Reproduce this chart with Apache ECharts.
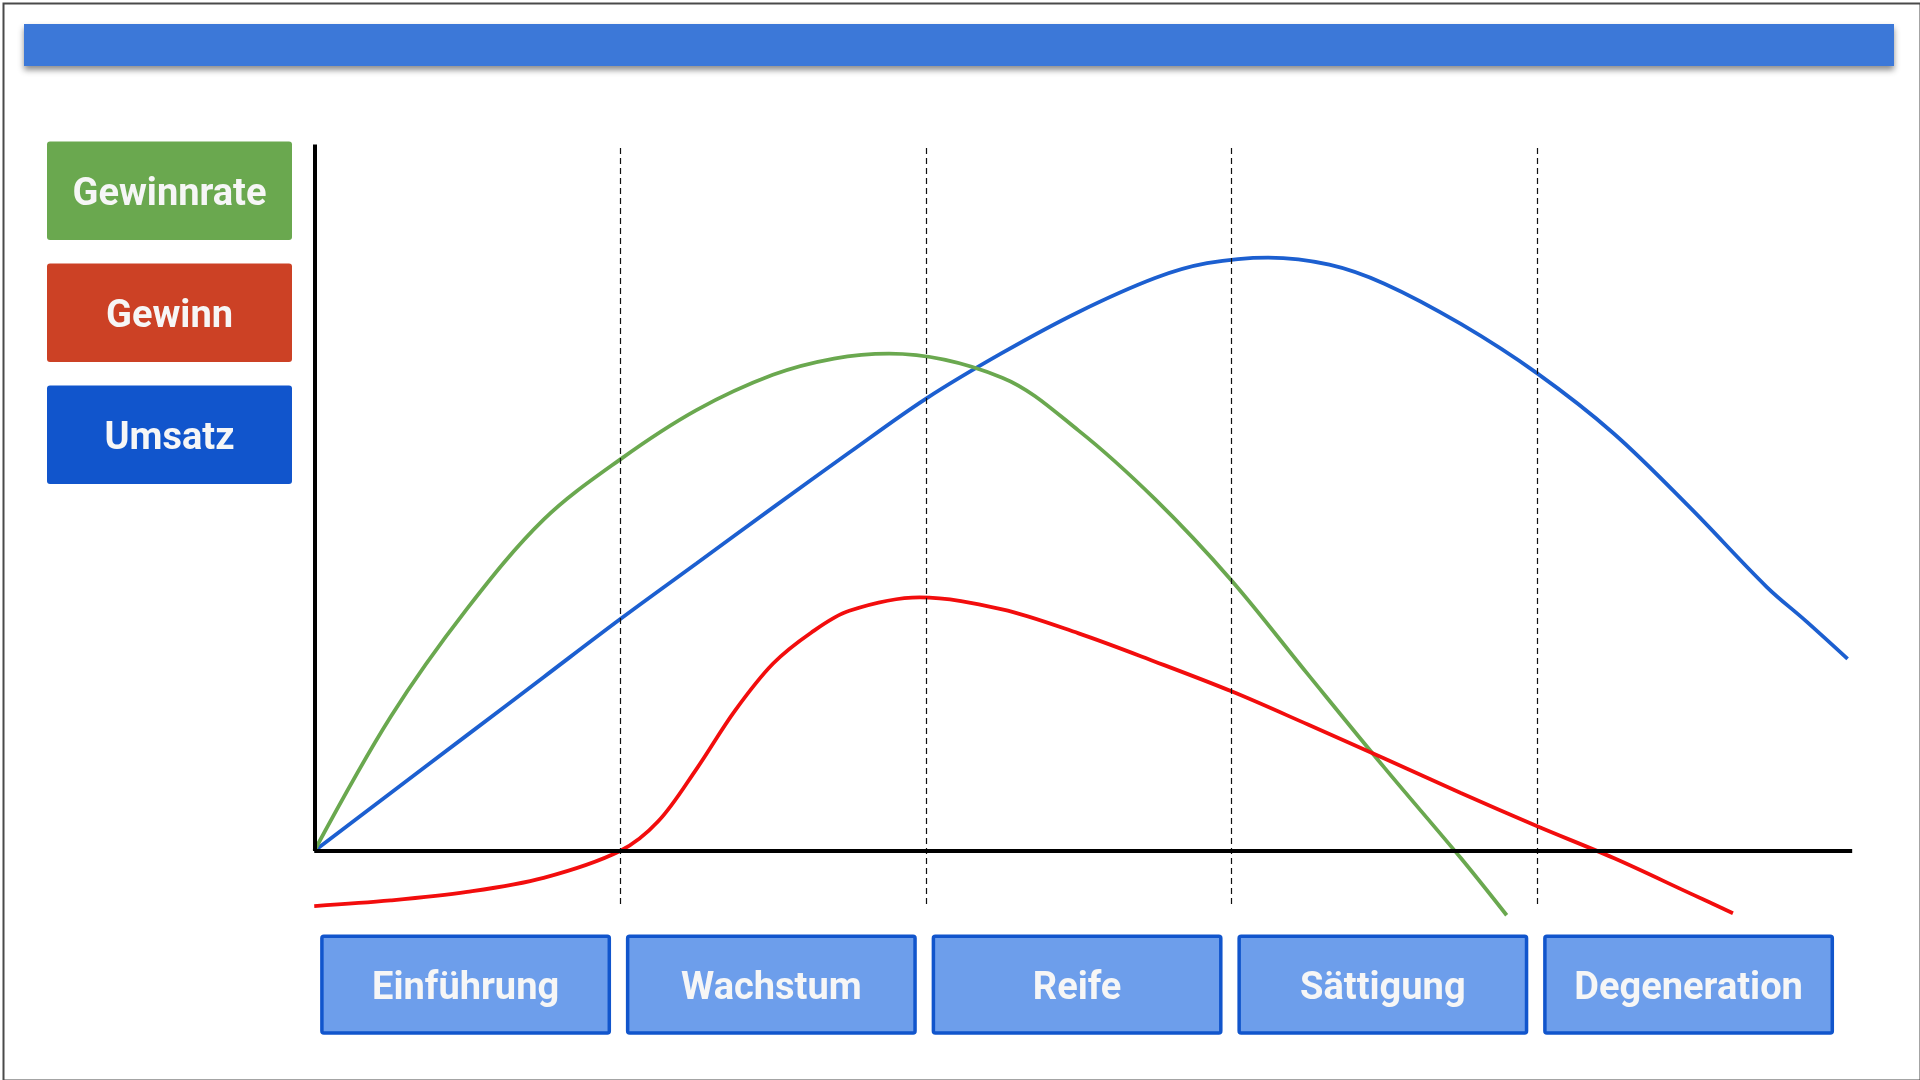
<!DOCTYPE html>
<html>
<head>
<meta charset="utf-8">
<script src="https://cdn.jsdelivr.net/npm/echarts@6/dist/echarts.min.js"></script>
<style>
html,body{margin:0;padding:0;background:#fff;}
#chart{width:1920px;height:1080px;}
</style>
</head>
<body>
<div id="chart"></div>
<script>
// ---- data ----
const stages = ['Einführung', 'Wachstum', 'Reife', 'Sättigung', 'Degeneration'];
const seriesNames = ['Gewinnrate', 'Gewinn', 'Umsatz'];
const stageDividers = [1, 2, 3, 4];

const umsatz = [
  [0, 0], [0.25, 8.2], [0.5, 16.4], [0.75, 24.6], [1, 32.8], [1.25, 40.7], [1.5, 48.6],
  [1.75, 56.4], [2, 64.0], [2.25, 70.5], [2.5, 76.3], [2.75, 81.1], [2.92, 83.2],
  [3.12, 84.0], [3.32, 83.0], [3.5, 80.3], [3.75, 74.6], [4, 67.6], [4.25, 59.1],
  [4.5, 48.6], [4.75, 37.4], [4.88, 32.5], [5.015, 27.2]
];
const gewinnrate = [
  [0, 0], [0.25, 19.0], [0.5, 34.3], [0.75, 46.9], [1, 55.4], [1.25, 62.4], [1.5, 67.4],
  [1.7, 69.7], [1.88, 70.4], [2.25, 67.0], [2.5, 59.5], [2.75, 49.8], [3, 38.3],
  [3.25, 25.0], [3.5, 11.8], [3.75, -1.0], [3.9, -9.1]
];
const gewinn = [
  [0, -7.8], [0.25, -7.0], [0.5, -5.8], [0.75, -3.8], [1, 0], [1.125, 4.2], [1.25, 11.6],
  [1.375, 19.8], [1.5, 26.5], [1.625, 30.9], [1.75, 34.0], [1.98, 35.9], [2.25, 34.2],
  [2.5, 30.8], [2.75, 26.8], [3, 22.6], [3.25, 17.9], [3.5, 13.1], [3.75, 8.2], [4, 3.5],
  [4.25, -1.0], [4.5, -6.0], [4.64, -8.8]
];

// ---- style ----
const colGreen = '#6aa84f';
const colRed = '#cc4125';
const colBlue = '#1155cc';
const lineGreen = '#6aa84f';
const lineRed = '#f20d0d';
const lineBlue = '#1c5fd0';
const FONT = 'Roboto, "Noto Sans", sans-serif';
const SMOOTH = 0.34;

const chart = echarts.init(document.getElementById('chart'), null, {renderer: 'canvas'});

const X_MAX = 5.03, Y_MIN = -10, Y_MAX = 100;
const UNIT_X = 305.75, UNIT_Y = 7.065;

const legendBoxes = seriesNames.map((name, i) => {
  const fills = [colGreen, colRed, colBlue];
  const tops = [141.5, 263.5, 385.5];
  return {
    type: 'group', left: 47, top: tops[i],
    children: [
      {type: 'rect', shape: {x: 0, y: 0, width: 245, height: 98.5, r: 3},
       style: {fill: fills[i]}},
      {type: 'text', x: 122.5, y: 54,
       style: {text: name, fill: '#f6f6f6', font: 'bold 38px ' + FONT,
               textAlign: 'center', textVerticalAlign: 'middle'}}
    ]
  };
});

const dividerLines = stageDividers.map(k => [{coord: [k, -7.5]}, {coord: [k, Y_MAX]}]);

const option = {
  animation: false,
  backgroundColor: '#ffffff',
  grid: {left: 314.25, top: 144.5, width: X_MAX * UNIT_X, height: (Y_MAX - Y_MIN) * UNIT_Y},
  xAxis: {type: 'value', min: 0, max: X_MAX, show: false},
  yAxis: {type: 'value', min: Y_MIN, max: Y_MAX, show: false},
  graphic: [
    {type: 'rect', left: 1, top: 1, shape: {x: 0, y: 0, width: 1917, height: 1077},
     style: {fill: null, stroke: '#4a4a4a', lineWidth: 2}, z: 100},
    {type: 'rect', shape: {x: 24, y: 24, width: 1870, height: 42},
     style: {fill: '#3c78d8', shadowBlur: 6, shadowOffsetY: 4, shadowColor: 'rgba(0,0,0,0.45)'}},
  ].concat(legendBoxes),
  series: [
    {
      type: 'line', name: 'dividers', data: [[0, 0]], symbol: 'none', z: 1, silent: true,
      lineStyle: {width: 0},
      markLine: {
        silent: true, symbol: 'none', animation: false, label: {show: false},
        lineStyle: {color: '#111', width: 1.2, type: [6, 4]},
        data: dividerLines
      }
    },
    {
      type: 'line', name: 'axes', data: [[0, 0]], symbol: 'none', z: 2, silent: true,
      lineStyle: {width: 0},
      markLine: {
        silent: true, symbol: 'none', animation: false, label: {show: false},
        lineStyle: {color: '#000', width: 4, type: 'solid'},
        data: [
          [{coord: [0, 0]}, {coord: [0, Y_MAX]}],
          [{coord: [0, 0]}, {coord: [X_MAX, 0]}]
        ]
      }
    },
    {
      type: 'line', name: seriesNames[2], data: umsatz, smooth: SMOOTH, symbol: 'none', z: 3,
      clip: false, lineStyle: {color: lineBlue, width: 3.8}
    },
    {
      type: 'line', name: seriesNames[0], data: gewinnrate, smooth: SMOOTH, symbol: 'none', z: 3,
      clip: false, lineStyle: {color: lineGreen, width: 3.8}
    },
    {
      type: 'line', name: seriesNames[1], data: gewinn, smooth: SMOOTH, symbol: 'none', z: 4,
      clip: false, lineStyle: {color: lineRed, width: 3.8}
    },
    {
      type: 'custom', name: 'stages', clip: false, z: 5, silent: true,
      data: stages.map((s, i) => ({value: [i, 0], name: s})),
      encode: {x: 0, y: 1},
      renderItem: function (params, api) {
        const i = api.value(0);
        const p1 = api.coord([i + 0.025, -12.05]);
        const p2 = api.coord([i + 0.965, -25.75]);
        return {
          type: 'group',
          children: [
            {type: 'rect', shape: {x: p1[0], y: p1[1], width: p2[0] - p1[0], height: p2[1] - p1[1], r: 2},
             style: {fill: '#6d9eeb', stroke: '#1155cc', lineWidth: 3.5}},
            {type: 'text', x: (p1[0] + p2[0]) / 2, y: (p1[1] + p2[1]) / 2 + 5,
             style: {text: stages[params.dataIndex], fill: '#f6f6f6', font: 'bold 38px ' + FONT,
                     textAlign: 'center', textVerticalAlign: 'middle'}}
          ]
        };
      }
    }
  ]
};
chart.setOption(option);
</script>
</body>
</html>
